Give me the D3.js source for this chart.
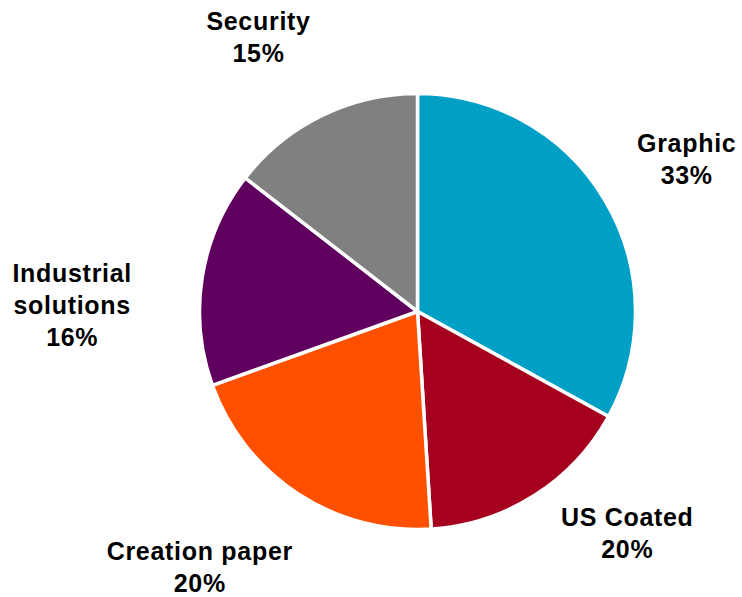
<html>
  <head>
    <meta charset="utf-8">
    <script src="https://cdn.jsdelivr.net/npm/d3@7"></script>
    <style>
      body { margin: 0; background: #ffffff; }
      text { font-family: "Liberation Sans", Arial, sans-serif; font-weight: bold; font-size: 25px; letter-spacing: 0.7px; fill: #000; }
    </style>
  </head>
  <body>
    <svg width="742" height="597"></svg>
    <script>
      // slice shares (clockwise from 12 o'clock)
      var categories = ["Graphic", "US Coated", "Creation paper", "Industrial solutions", "Security"];
      var shares = [33, 16, 20.5, 16, 14.5];
      var pctLabels = ["33%", "20%", "20%", "16%", "15%"];
      var nameLines = [["Graphic"], ["US Coated"], ["Creation paper"], ["Industrial", "solutions"], ["Security"]];
      var colors = ["#00a0c6", "#a5001e", "#ff5000", "#5f005f", "#808080"];

      // label nudges away from the label arc (layout only)
      var labelNudge = [[11, 0], [49, -32], [-53, 5], [-49, 40], [-27, -5]];

      var svg = d3.select("svg"),
          width = +svg.attr("width"),
          height = +svg.attr("height");

      var cx = 417.5, cy = 311.5, r = 218;

      var data = categories.map(function(c, i) {
        return { name: c, value: shares[i], pct: pctLabels[i], lines: nameLines[i], color: colors[i], nudge: labelNudge[i] };
      });

      var pie = d3.pie().sort(null).value(function(d) { return d.value; });
      var arc = d3.arc().innerRadius(0).outerRadius(r);
      var labelArc = d3.arc().innerRadius(300).outerRadius(300);

      var g = svg.append("g").attr("transform", "translate(" + cx + "," + cy + ")");
      var arcs = pie(data);

      g.selectAll("path")
        .data(arcs)
        .enter().append("path")
        .attr("d", arc)
        .attr("fill", function(d) { return d.data.color; })
        .attr("stroke", "#fff")
        .attr("stroke-width", 3.5)
        .attr("stroke-linejoin", "round");

      var lineH = 32;
      var labels = g.selectAll("text.lbl")
        .data(arcs)
        .enter().append("text")
        .attr("class", "lbl")
        .attr("text-anchor", "middle")
        .attr("transform", function(d) {
          var c = labelArc.centroid(d);
          var n = d.data.lines.length + 1;
          // block vertical centre -> first baseline
          var firstBase = c[1] + d.data.nudge[1] - ((n - 1) * lineH) / 2 + 9;
          return "translate(" + (c[0] + d.data.nudge[0]) + "," + firstBase + ")";
        });

      labels.each(function(d) {
        var t = d3.select(this);
        d.data.lines.concat([d.data.pct]).forEach(function(s, i) {
          t.append("tspan").attr("x", 0).attr("y", i * lineH).text(s);
        });
      });
    </script>
  </body>
</html>
